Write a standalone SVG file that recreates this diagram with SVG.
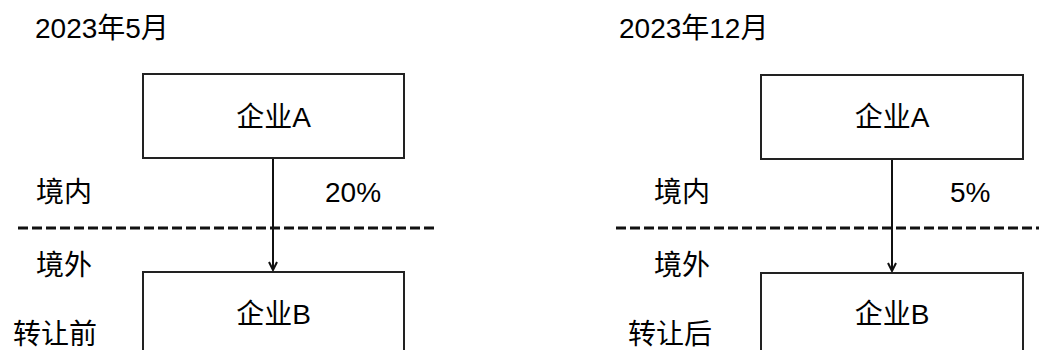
<svg xmlns="http://www.w3.org/2000/svg" width="1039" height="350" viewBox="0 0 1039 350">
<style>
text{font-family:"Liberation Sans","Noto Sans CJK SC",sans-serif;font-size:28px;fill:#000}
.box{fill:#fff;stroke:#222;stroke-width:2}
.dash{stroke:#111;stroke-width:3;stroke-dasharray:10 4}
.conn{stroke:#111;stroke-width:2;fill:none}
.mid{text-anchor:middle}
</style>
<defs>
<marker id="arr" viewBox="0 0 10 10" refX="9" refY="5" markerWidth="10" markerHeight="10" markerUnits="userSpaceOnUse" orient="auto">
<path d="M1,1 L9,5 L1,9" fill="none" stroke="#111" stroke-width="2"/>
</marker>
</defs>
<rect width="1039" height="350" fill="#fff"/>
<g id="labels">
<text x="35" y="38">2023年5月</text>
<text x="36" y="202">境内</text>
<text x="325" y="202">20%</text>
<text x="36" y="275">境外</text>
<text x="13" y="344">转让前</text>
<text x="619" y="38">2023年12月</text>
<text x="654" y="202">境内</text>
<text x="950" y="202">5%</text>
<text x="654" y="275">境外</text>
<text x="628" y="344">转让后</text>
</g>
<g id="connectors">
<line class="dash" x1="18" y1="228" x2="437" y2="228"/>
<line class="dash" x1="616" y1="228" x2="1039" y2="228"/>
<line class="conn" x1="273" y1="158" x2="273" y2="270" marker-end="url(#arr)"/>
<line class="conn" x1="892" y1="159" x2="892" y2="271" marker-end="url(#arr)"/>
</g>
<g id="nodeA1"><rect class="box" x="143" y="74" width="261" height="84"/><text class="mid" x="273.5" y="127">企业A</text></g>
<g id="nodeB1"><rect class="box" x="143" y="272" width="261" height="90"/><text class="mid" x="273.5" y="324">企业B</text></g>
<g id="nodeA2"><rect class="box" x="761" y="75" width="262" height="84"/><text class="mid" x="892" y="127">企业A</text></g>
<g id="nodeB2"><rect class="box" x="761" y="273" width="262" height="90"/><text class="mid" x="892" y="324">企业B</text></g>
</svg>
